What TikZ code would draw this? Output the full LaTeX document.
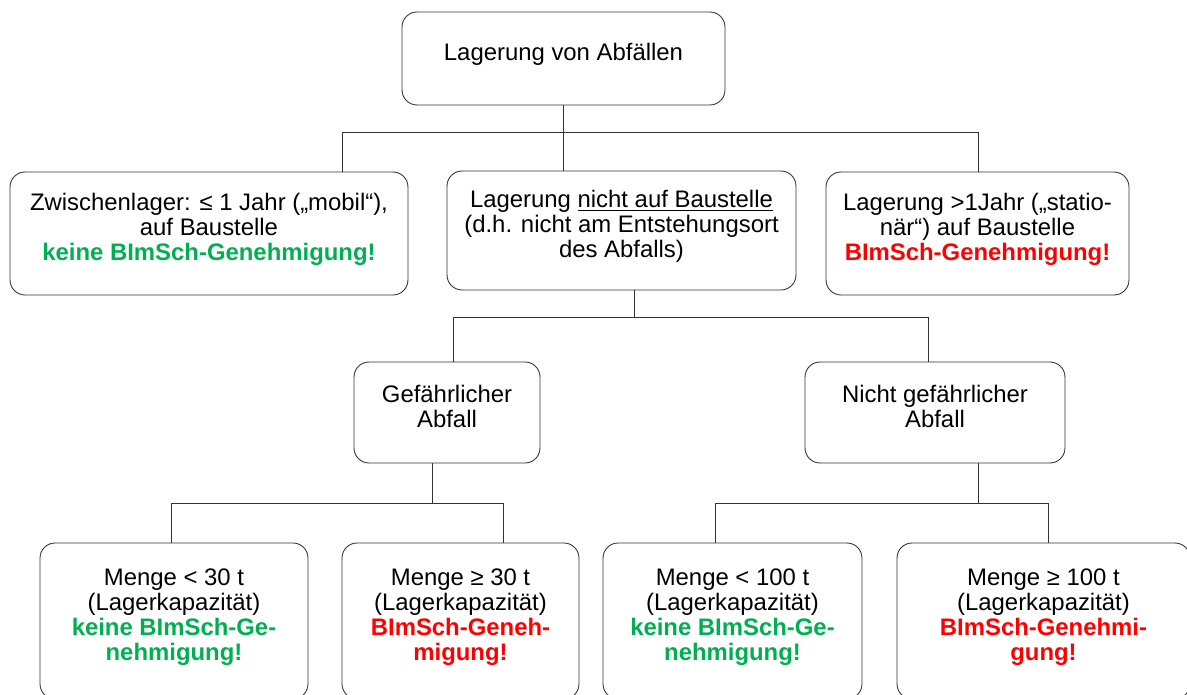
\documentclass[tikz,border=0pt]{standalone}
\usepackage{fontspec}
\setmainfont{Liberation Sans}
\usetikzlibrary{positioning}
\definecolor{okgreen}{HTML}{00B050}
\definecolor{badred}{HTML}{FF0000}
\newcommand{\okmark}[1]{\textcolor{okgreen}{\textbf{#1}}}
\newcommand{\badmark}[1]{\textcolor{badred}{\textbf{#1}}}
\newcommand{\lowstrut}{\rule[-0.26cm]{0pt}{0pt}}
\tikzset{
    box/.style={draw=black!80,line width=0.5pt,rounded corners=0.3cm,align=center,inner sep=2pt,
        font=\fontsize{13.6}{14.2}\selectfont},
    link/.style={draw=black!80,line width=0.5pt},
}

\begin{document}
\begin{tikzpicture}[x=0.02cm,y=-0.02cm]
    \clip (0,0) rectangle (1187,695);
    \node[box,minimum width=6.46cm,minimum height=1.86cm] (top) at (563.5,58.5) {Lagerung von Abfällen\lowstrut};
    \node[box,minimum width=7.96cm,minimum height=2.46cm] (zwl) at (209,233.5)
        {Zwischenlager: ≤ 1 Jahr („mobil“),\\ auf Baustelle\\ \okmark{keine BImSch-Genehmigung!}\lowstrut};
    \node[box,minimum width=6.98cm,minimum height=2.38cm] (mid) at (621.5,230.5)
        {Lagerung \underline{nicht auf Baustelle}\\ (d.h. nicht am Entstehungsort\\ des Abfalls)\lowstrut};
    \node[box,minimum width=6.06cm,minimum height=2.46cm] (stat) at (977.5,233.5)
        {Lagerung >1Jahr („statio-\\ när“) auf Baustelle\\ \badmark{BImSch-Genehmigung!}\lowstrut};
    \node[box,minimum width=3.72cm,minimum height=2.02cm] (gef) at (447,412.5) {Gefährlicher\\ Abfall\lowstrut};
    \node[box,minimum width=5.2cm,minimum height=2.02cm] (ngef) at (935,412.5) {Nicht gefährlicher\\ Abfall\lowstrut};
    \node[box,minimum width=5.36cm,minimum height=3.12cm] (b1) at (174,621)
        {Menge < 30 t\\ (Lagerkapazität)\\ \okmark{keine BImSch-Ge-}\\ \okmark{nehmigung!}\lowstrut};
    \node[box,minimum width=4.74cm,minimum height=3.12cm] (b2) at (460.5,621)
        {Menge ≥ 30 t\\ (Lagerkapazität)\\ \badmark{BImSch-Geneh-}\\ \badmark{migung!}\lowstrut};
    \node[box,minimum width=5.18cm,minimum height=3.12cm] (b3) at (732.5,621)
        {Menge < 100 t\\ (Lagerkapazität)\\ \okmark{keine BImSch-Ge-}\\ \okmark{nehmigung!}\lowstrut};
    \node[box,minimum width=5.86cm,minimum height=3.12cm] (b4) at (1043.5,621)
        {Menge ≥ 100 t\\ (Lagerkapazität)\\ \badmark{BImSch-Genehmi-}\\ \badmark{gung!}\lowstrut};

    \coordinate (j1l) at (342,132);
    \coordinate (j1r) at (978,132);
    \coordinate (j2) at (634,317);
    \coordinate (j2l) at (453,317);
    \coordinate (j2r) at (928,317);
    \coordinate (j3) at (432,503);
    \coordinate (j3l) at (171,503);
    \coordinate (j3r) at (503,503);
    \coordinate (j4) at (978,503);
    \coordinate (j4l) at (715,503);
    \coordinate (j4r) at (1048,503);

    \draw[link] (top.south) -- (top.south |- mid.north);
    \draw[link] (zwl.north -| j1l) |- (j1r) -- (stat.north -| j1r);
    \draw[link] (mid.south -| j2) -- (j2);
    \draw[link] (gef.north -| j2l) |- (j2r) -- (ngef.north -| j2r);
    \draw[link] (gef.south -| j3) -- (j3);
    \draw[link] (b1.north -| j3l) |- (j3r) -- (b2.north -| j3r);
    \draw[link] (ngef.south -| j4) -- (j4);
    \draw[link] (b3.north -| j4l) |- (j4r) -- (b4.north -| j4r);
\end{tikzpicture}
\end{document}
